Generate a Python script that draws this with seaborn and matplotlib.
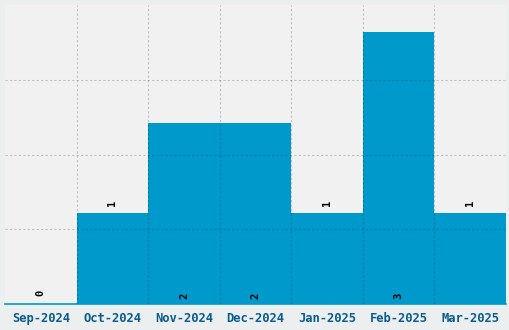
import matplotlib
matplotlib.use("Agg")
import matplotlib.pyplot as plt
import seaborn as sns

months = ["Sep-2024", "Oct-2024", "Nov-2024", "Dec-2024", "Jan-2025", "Feb-2025", "Mar-2025"]
counts = [0, 1, 2, 2, 1, 3, 1]
y_max = 3.3

bar_color = "#0099CC"
label_color = "#0A5C8C"

sns.set_theme(style="white")
plt.rcParams["font.family"] = ["DejaVu Sans Mono", "DejaVu Sans"]

fig = plt.figure(figsize=(5.1, 3.3), dpi=100)
fig.patch.set_facecolor("#ECEFF0")
ax = fig.add_axes([5 / 510, 26 / 330, 501 / 510, 299 / 330])
ax.set_facecolor("#F1F1F1")

sns.barplot(x=months, y=counts, color=bar_color, width=1.0, saturation=1,
            linewidth=0, ax=ax)

ax.set_xlim(-0.5, len(months) - 0.5)
ax.set_ylim(0, y_max)
ax.set_yticks([y_max / 4 * i for i in range(1, 4)])
ax.set_yticklabels([])
ax.set_xticks([i + 0.5 for i in range(len(months) - 1)], minor=True)
ax.tick_params(axis="x", which="both", length=0, pad=6, labelsize=8.7,
               labelcolor=label_color)
for t in ax.get_xticklabels():
    t.set_fontweight("bold")
ax.tick_params(axis="y", length=0)
ax.set_axisbelow(False)
grid_kw = dict(color="black", alpha=0.2, linestyle=(0, (2, 2)), linewidth=0.8)
ax.grid(True, axis="y", which="major", **grid_kw)
ax.grid(True, axis="x", which="minor", **grid_kw)
ax.grid(False, axis="x", which="major")

for s in ["top", "left", "right"]:
    ax.spines[s].set_visible(False)
ax.spines["bottom"].set_color(bar_color)
ax.spines["bottom"].set_linewidth(1.2)

for i, v in enumerate(counts):
    if v >= 2:
        ax.annotate(str(v), (i, 0), xytext=(0, 8), textcoords="offset pixels",
                    ha="center", va="center", rotation=90, fontsize=7.5,
                    color="black", fontweight="bold")
    else:
        ax.annotate(str(v), (i, v), xytext=(0, 11), textcoords="offset pixels",
                    ha="center", va="center", rotation=90, fontsize=7.5,
                    color="black", fontweight="bold")

ax.set_xlabel("")
ax.set_ylabel("")
fig.savefig("out.png", dpi=100, facecolor=fig.get_facecolor())
